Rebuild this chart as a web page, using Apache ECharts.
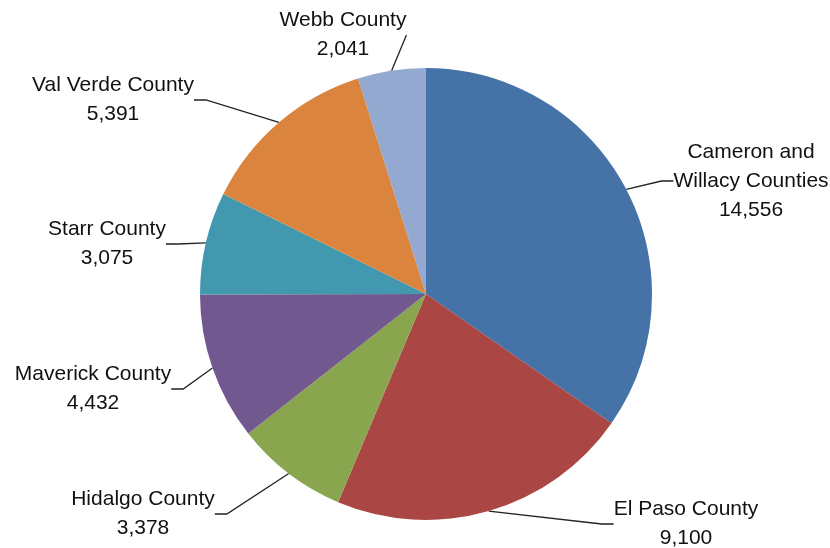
<!DOCTYPE html>
<html>
<head>
<meta charset="utf-8">
<script src="https://cdn.jsdelivr.net/npm/echarts@6/dist/echarts.min.js"></script>
<style>html,body{margin:0;padding:0;background:#fff}#c{width:830px;height:548px}</style>
</head>
<body>
<div id="c"></div>
<script>
const categories = ["Cameron and\nWillacy Counties", "El Paso County", "Hidalgo County", "Maverick County", "Starr County", "Val Verde County", "Webb County"];
const values = [14556, 9100, 3378, 4432, 3075, 5391, 2041];
const colors = ["#4572A7", "#AA4643", "#89A54E", "#71588F", "#4198AF", "#DB843D", "#93A9CF"];
// label centre positions (pixels)
const labelPos = [[751, 181], [686, 524], [143, 514], [93, 389], [107, 244], [113, 100], [343, 35]];

const chart = echarts.init(document.getElementById('c'), null, {renderer: 'canvas'});
chart.setOption({
  animation: false,
  backgroundColor: '#ffffff',
  series: [{
    type: 'pie',
    center: [426, 294],
    radius: 226,
    startAngle: 90,
    clockwise: true,
    data: categories.map((n, i) => ({name: n, value: values[i], itemStyle: {color: colors[i]}})),
    itemStyle: {borderWidth: 0},
    label: {
      show: true,
      formatter: p => p.name + '\n' + p.value.toLocaleString('en-US'),
      fontFamily: 'Liberation Sans',
      fontSize: 21,
      lineHeight: 29,
      color: '#111',
      align: 'center'
    },
    labelLine: {show: true, length: 10, length2: 12, lineStyle: {color: '#222', width: 1.3}},
    labelLayout: p => ({x: labelPos[p.dataIndex][0], y: labelPos[p.dataIndex][1], align: 'center', verticalAlign: 'middle'})
  }]
});
</script>
</body>
</html>
